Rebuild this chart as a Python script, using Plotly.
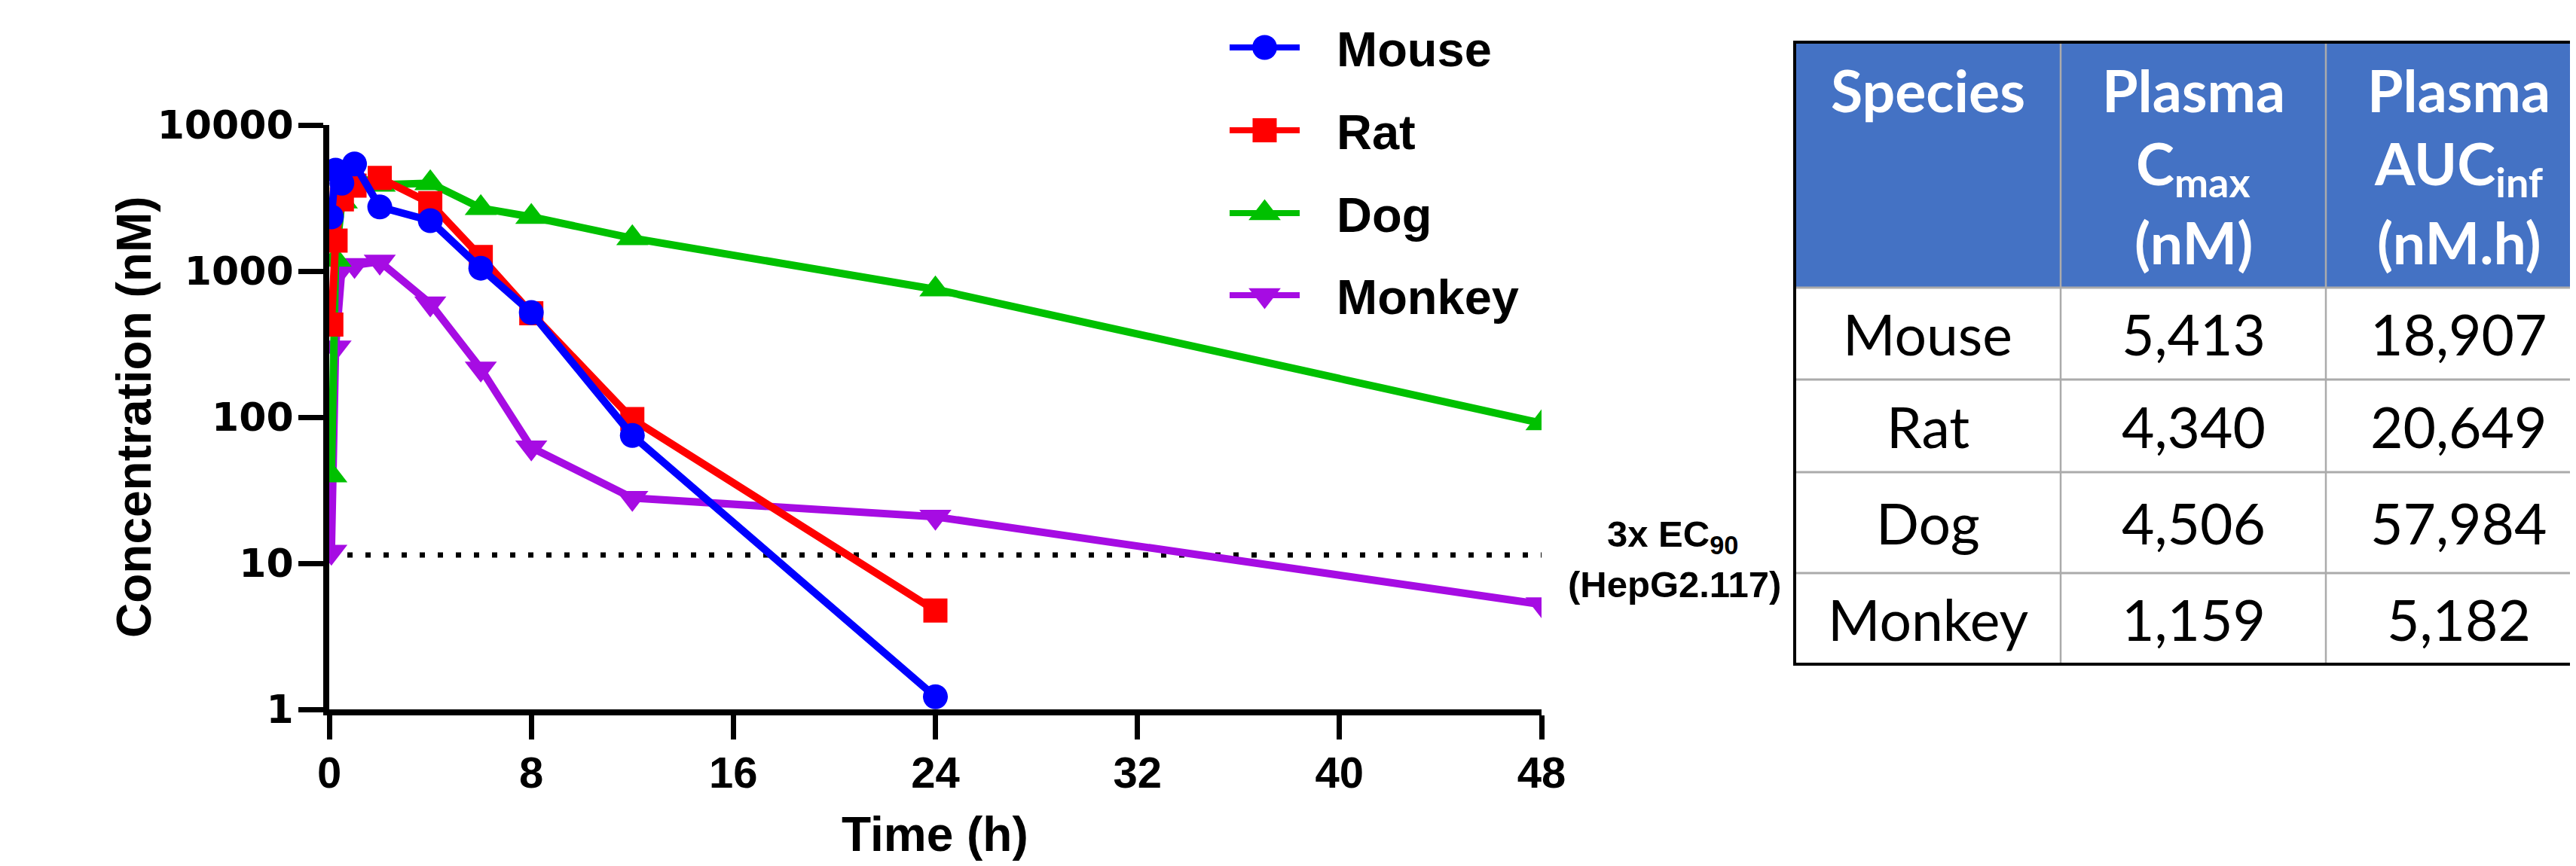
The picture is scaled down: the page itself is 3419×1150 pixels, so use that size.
import plotly.graph_objects as go

# ---------------- data ----------------
species = ["Mouse", "Rat", "Dog", "Monkey"]

mouse_time = [0.083, 0.25, 0.5, 1, 2, 4, 6, 8, 12, 24]
mouse_conc = [2350, 4900, 4000, 5413, 2750, 2215, 1047, 520, 75, 1.22]

rat_time = [0.083, 0.25, 0.5, 1, 2, 4, 6, 8, 12, 24]
rat_conc = [430, 1616, 3100, 3845, 4340, 2918, 1250, 515, 97, 4.75]

dog_time = [0.083, 0.25, 0.5, 1, 2, 4, 6, 8, 12, 24, 48]
dog_conc = [40, 1200, 3000, 4506, 3900, 4000, 2700, 2350, 1680, 750, 91]

monkey_time = [0.083, 0.25, 0.5, 1, 2, 4, 6, 8, 12, 24, 48]
monkey_conc = [12, 300, 1050, 1100, 1159, 600, 215, 62, 28, 20.8, 5.23]

ec90_3x_level = 11.4  # 3x EC90 (HepG2.117), nM

x_ticks = [0, 8, 16, 24, 32, 40, 48]
y_ticks = [1, 10, 100, 1000, 10000]
y_ticktext = ["1", "10", "100", "1000", "10000"]

table_species = ["Mouse", "Rat", "Dog", "Monkey"]
table_cmax = ["5,413", "4,340", "4,506", "1,159"]
table_auc = ["18,907", "20,649", "57,984", "5,182"]

# ---------------- style / layout constants ----------------
W, H = 3419, 1150          # target page size
OFF = 8                    # page body margin of the html page
FW, FH = W - OFF, H - OFF  # figure size
PX_L, PX_R, PX_T, PX_B = 437, 2046, 166, 942   # plot area in page pixels

BLUE, RED, GREEN, PURPLE = "#0000FF", "#FF0000", "#00C000", "#A60CE3"
ARIAL = "Liberation Sans, Arial, sans-serif"
DEJAVU = "DejaVu Sans, Verdana, sans-serif"
LATO = "Lato, Carlito, Calibri, sans-serif"
HEADER_BLUE = "#4472C4"
GRID_GRAY = "#ABABAB"

styles = {
    "Mouse": dict(color=BLUE, symbol="circle", size=33),
    "Rat": dict(color=RED, symbol="square", size=32),
    "Dog": dict(color=GREEN, symbol="triangle-up", size=37),
    "Monkey": dict(color=PURPLE, symbol="triangle-down", size=37),
}
series = {
    "Mouse": (mouse_time, mouse_conc),
    "Rat": (rat_time, rat_conc),
    "Dog": (dog_time, dog_conc),
    "Monkey": (monkey_time, monkey_conc),
}

fig = go.Figure()

# dotted threshold line
fig.add_trace(go.Scatter(
    x=[x_ticks[0], x_ticks[-1]], y=[ec90_3x_level, ec90_3x_level],
    mode="lines", line=dict(color="black", width=7, dash="7px,17px"),
    hoverinfo="skip", showlegend=False))

# data series (bottom -> top drawing order)
for name in ["Monkey", "Dog", "Rat", "Mouse"]:
    t, c = series[name]
    st = styles[name]
    fig.add_trace(go.Scatter(
        x=t, y=c, mode="lines+markers", name=name,
        line=dict(color=st["color"], width=10),
        marker=dict(symbol=st["symbol"], size=st["size"], color=st["color"], line=dict(width=0)),
        showlegend=False))

# manual legend (overlay pixel axis)
LEG_Y = [63, 173, 283, 392]
for name, ly in zip(species, LEG_Y):
    st = styles[name]
    fig.add_trace(go.Scatter(
        x=[1632, 1725], y=[ly, ly], mode="lines", xaxis="x2", yaxis="y2",
        line=dict(color=st["color"], width=8), hoverinfo="skip", showlegend=False))
    fig.add_trace(go.Scatter(
        x=[1678.5], y=[ly], mode="markers", xaxis="x2", yaxis="y2",
        marker=dict(symbol=st["symbol"], size=st["size"], color=st["color"], line=dict(width=0)),
        hoverinfo="skip", showlegend=False, cliponaxis=False))

annotations = []
def ann(text, x, y, size, family=ARIAL, color="black", weight="bold", xanchor="center",
        yanchor="middle", angle=0):
    annotations.append(dict(
        text=text, x=x, y=y, xref="x2", yref="y2", showarrow=False,
        xanchor=xanchor, yanchor=yanchor, textangle=angle,
        font=dict(family=family, size=size, color=color, weight=weight)))

for name, ly in zip(species, LEG_Y):
    ann(name, 1772, ly + 2, 65, xanchor="left")

# axis titles
ann("Concentration (nM)", 178, 554, 64, angle=-90)
ann("Time (h)", 1241, 1108, 64)

# threshold label
ann("3x EC<sub>90</sub>", 2220, 712, 49)
ann("(HepG2.117)", 2222, 776, 49)

# ---------------- table ----------------
T_L, T_R = 2382, 3440
COL_X = [2382, 2735, 3087, 3440]
ROW_Y = [56, 382, 504, 627, 761, 882]
col_c = [(COL_X[i] + COL_X[i + 1]) / 2 for i in range(3)]
row_c = [(ROW_Y[i] + ROW_Y[i + 1]) / 2 for i in range(1, 5)]

shapes = []
def shp(**kw):
    d = dict(xref="x2", yref="y2", layer="above")
    d.update(kw)
    shapes.append(d)

shp(type="rect", x0=T_L, x1=T_R, y0=ROW_Y[0], y1=ROW_Y[1], fillcolor=HEADER_BLUE, line=dict(width=0), layer="below")
for yy in ROW_Y[1:-1]:
    shp(type="line", x0=T_L, x1=T_R, y0=yy, y1=yy, line=dict(color=GRID_GRAY, width=3))
for xx in COL_X[1:3]:
    shp(type="line", x0=xx, x1=xx, y0=ROW_Y[0], y1=ROW_Y[-1], line=dict(color=GRID_GRAY, width=2.5))
shp(type="line", x0=T_L, x1=T_R, y0=ROW_Y[0], y1=ROW_Y[0], line=dict(color="black", width=4))
shp(type="line", x0=T_L, x1=T_R, y0=ROW_Y[-1], y1=ROW_Y[-1], line=dict(color="black", width=4))
shp(type="line", x0=T_L, x1=T_L, y0=ROW_Y[0] - 2, y1=ROW_Y[-1] + 2, line=dict(color="black", width=4))

HDR_Y = [119, 221, 321]
headers = [["Species"], ["Plasma", "C<sub>max</sub>", "(nM)"], ["Plasma", "AUC<sub>inf</sub>", "(nM.h)"]]
for ci, lines in enumerate(headers):
    for li, txt in enumerate(lines):
        ann(txt, col_c[ci], HDR_Y[li], 77, family=LATO, color="white", weight="bold")

for ri in range(4):
    for ci, col in enumerate([table_species, table_cmax, table_auc]):
        ann(col[ri], col_c[ci], row_c[ri], 75, family=LATO, color="black", weight="normal")

fig.update_layout(
    width=FW, height=FH, margin=dict(l=0, r=0, t=0, b=0, pad=0),
    paper_bgcolor="white", plot_bgcolor="rgba(0,0,0,0)",
    showlegend=False,
    xaxis=dict(domain=[(PX_L - OFF) / FW, (PX_R - OFF) / FW], range=[0, 48], tickvals=x_ticks,
               ticks="outside", ticklen=32, tickwidth=7, tickcolor="black",
               showline=True, linewidth=8, linecolor="black", showgrid=False, zeroline=False,
               tickfont=dict(family=ARIAL, size=58, color="black", weight="bold"),
               ticklabelstandoff=-6,
               automargin=False, anchor="y", fixedrange=True),
    yaxis=dict(domain=[1 - (PX_B - OFF) / FH, 1 - (PX_T - OFF) / FH], type="log", range=[0, 4],
               tickvals=y_ticks, ticktext=y_ticktext,
               ticks="outside", ticklen=33, tickwidth=7, tickcolor="black",
               showline=True, linewidth=8, linecolor="black", showgrid=False, zeroline=False,
               tickfont=dict(family=DEJAVU, size=52, color="black", weight="bold"),
               ticklabelstandoff=-4,
               automargin=False, anchor="x", fixedrange=True),
    xaxis2=dict(domain=[0, 1], range=[OFF, W], visible=False, anchor="y2", fixedrange=True),
    yaxis2=dict(domain=[0, 1], range=[H, OFF], visible=False, anchor="x2", fixedrange=True),
    annotations=annotations,
    shapes=shapes,
)

fig.write_html("out.html")
